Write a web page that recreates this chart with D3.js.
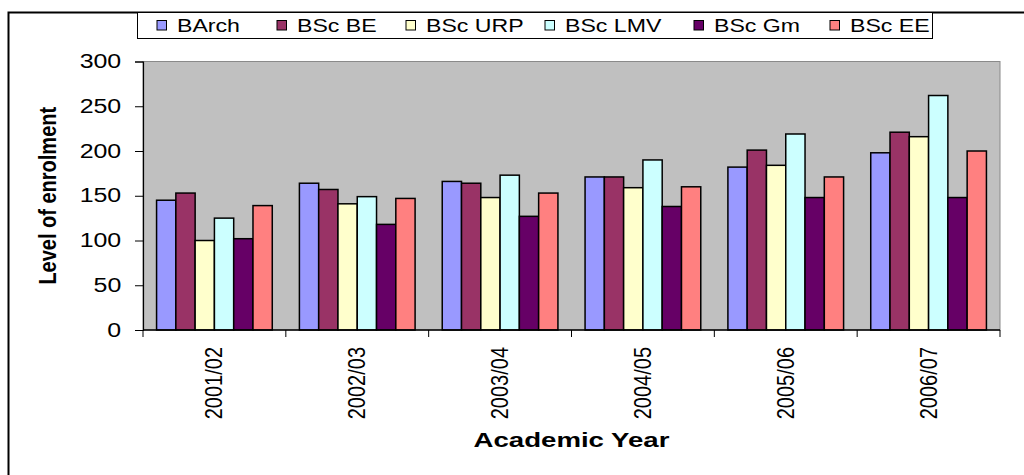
<!DOCTYPE html>
<html>
<head>
<meta charset="utf-8">
<script src="https://cdn.jsdelivr.net/npm/d3@7"></script>
<style>
  body { margin: 0; background: #fff; }
  svg { display: block; font-family: "Liberation Sans", Arial, sans-serif; }
</style>
</head>
<body>
<div id="chart"></div>
<script>
// data
const years = ["2001/02", "2002/03", "2003/04", "2004/05", "2005/06", "2006/07"];
const programmes = ["BArch", "BSc BE", "BSc URP", "BSc LMV", "BSc Gm", "BSc EE"];
const barch  = [145, 164, 166, 171, 182, 198];
const bscBE  = [153, 157, 164, 171, 201, 221];
const bscURP = [100, 141, 148, 159, 184, 216];
const bscLMV = [125, 149, 173, 190, 219, 262];
const bscGm  = [102, 118, 127, 138, 148, 148];
const bscEE  = [139, 147, 153, 160, 171, 200];
const yTicks = [0, 50, 100, 150, 200, 250, 300];

const series = [barch, bscBE, bscURP, bscLMV, bscGm, bscEE];
const colors = ["#9999ff", "#993366", "#ffffcc", "#ccffff", "#660066", "#ff8080"];

const W = 1024, H = 475;
const margin = {top: 61.5, right: 24, bottom: 145, left: 143};
const width = W - margin.left - margin.right,
      height = H - margin.top - margin.bottom;
// the picture's text is a little stretched sideways
const SX = 1.25;

const svg = d3.select("#chart").append("svg")
    .attr("width", W)
    .attr("height", H);

// outer chart frame (only top and left visible)
svg.append("path")
    .attr("d", "M8.5,475 V12.5 H1024")
    .attr("fill", "none")
    .attr("stroke", "#000")
    .attr("stroke-width", 2);

const g = svg.append("g")
    .attr("transform", "translate(" + margin.left + "," + margin.top + ")");

const x0 = d3.scaleBand()
    .domain(years)
    .range([0, width])
    .paddingInner(0.19)
    .paddingOuter(0.095);

const x1 = d3.scaleBand()
    .domain(programmes)
    .range([0, x0.bandwidth()]);

const y = d3.scaleLinear()
    .domain([0, 300])
    .range([height, 0]);

// plot area
g.append("rect")
    .attr("width", width)
    .attr("height", height)
    .attr("fill", "#c0c0c0")
    .attr("stroke", "#8a8a8a")
    .attr("stroke-width", 1);

// bars
const rows = years.map((yr, i) => ({year: yr, values: programmes.map((p, j) => ({key: p, value: series[j][i], color: colors[j]}))}));

g.selectAll("g.group")
    .data(rows)
    .join("g")
    .attr("class", "group")
    .attr("transform", d => "translate(" + x0(d.year) + ",0)")
    .selectAll("rect")
    .data(d => d.values)
    .join("rect")
    .attr("x", d => x1(d.key))
    .attr("y", d => y(d.value))
    .attr("width", x1.bandwidth())
    .attr("height", d => height - y(d.value))
    .attr("fill", d => d.color)
    .attr("stroke", "#000")
    .attr("stroke-width", 1.5);

// y axis
const yAxis = g.append("g")
    .call(d3.axisLeft(y).tickValues(yTicks).tickSize(8).tickPadding(9));
yAxis.select(".domain").attr("stroke", "#000").attr("stroke-width", 1.2);
yAxis.selectAll("text")
    .attr("font-size", 19.5)
    .attr("fill", "#000")
    .attr("transform", "scale(" + 1.28 + ",1)");

// x axis: baseline and ticks between categories
const step = x0.step();
g.append("line")
    .attr("x1", 0).attr("x2", width)
    .attr("y1", height).attr("y2", height)
    .attr("stroke", "#000").attr("stroke-width", 1.5);

g.selectAll("line.xtick")
    .data(d3.range(years.length + 1))
    .join("line")
    .attr("class", "xtick")
    .attr("x1", i => i * step).attr("x2", i => i * step)
    .attr("y1", height).attr("y2", height + 7)
    .attr("stroke", "#000");

g.selectAll("text.xlabel")
    .data(years)
    .join("text")
    .attr("class", "xlabel")
    .attr("transform", d => "translate(" + (x0(d) + x0.bandwidth() / 2 + 8) + "," + (height + 17) + ") scale(1.2,1) rotate(-90)")
    .attr("text-anchor", "end")
    .attr("font-size", 20)
    .text(d => d);

// axis titles
svg.append("text")
    .attr("transform", "translate(" + (margin.left + width / 2) + ",447) scale(1.38,1)")
    .attr("text-anchor", "middle")
    .attr("font-size", 20)
    .attr("font-weight", "bold")
    .text("Academic Year");

svg.append("text")
    .attr("transform", "translate(56," + (margin.top + height / 2) + ") scale(1.2,1) rotate(-90)")
    .attr("text-anchor", "middle")
    .attr("font-size", 20)
    .attr("font-weight", "bold")
    .text("Level of enrolment");

// legend
const legend = svg.append("g");
legend.append("rect")
    .attr("x", 137.5).attr("y", 12.5)
    .attr("width", 795).attr("height", 26)
    .attr("fill", "#fff")
    .attr("stroke", "#000");

const legendX = [157, 277, 406, 545, 694, 830];
const items = legend.selectAll("g.item")
    .data(programmes)
    .join("g")
    .attr("class", "item")
    .attr("transform", (d, i) => "translate(" + legendX[i] + ",25)");
items.append("rect")
    .attr("x", 0).attr("y", -4.5)
    .attr("width", 9.5).attr("height", 9.5)
    .attr("fill", (d, i) => colors[i])
    .attr("stroke", "#000");
items.append("text")
    .attr("transform", "translate(20,6.5) scale(" + SX + ",1)")
    .attr("font-size", 18.5)
    .text(d => d);
</script>
</body>
</html>
